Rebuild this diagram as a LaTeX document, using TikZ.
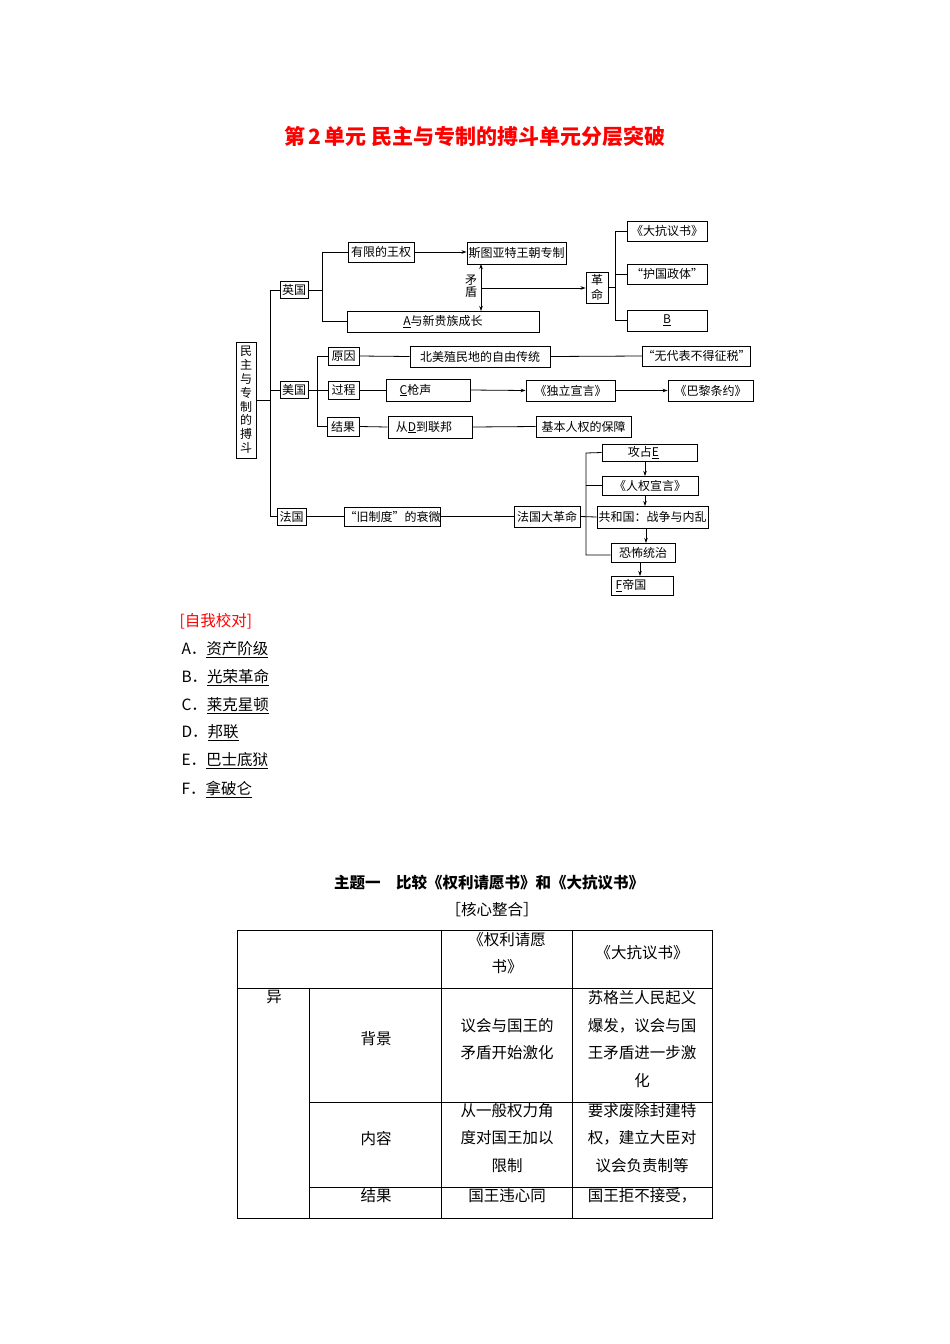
\documentclass[tikz,border=0pt]{standalone}
\usepackage{fontspec}
\setmainfont{Noto Sans CJK SC}
\usetikzlibrary{arrows.meta}
\begin{document}
\begin{tikzpicture}[x=1pt,y=-1pt,
  bx/.style={draw,line width=0.9pt,inner sep=0pt,font=\fontsize{12}{13.5}\selectfont,align=center},
  ln/.style={line width=0.8pt},
  ar/.style={line width=0.8pt,-{Stealth[length=5pt,width=3.5pt]}},
  bt/.style={font=\fontsize{15.5}{27.5}\selectfont,align=center},
  tl/.style={line width=0.8pt}]
\useasboundingbox (0,0) rectangle (950,1344);
\node[font=\bfseries\fontsize{21}{21}\selectfont,text=red] (title) at (475,137) {第\,2\,单元\ 民主与专制的搏斗单元分层突破};
% diagram
\node[bx,minimum width=20,minimum height=116,font=\fontsize{12}{13.8}\selectfont] (root) at (246,400) {民\\主\\与\\专\\制\\的\\搏\\斗};
\node[bx,minimum width=28,minimum height=17] (yg) at (294,290) {英国};
\node[bx,minimum width=28,minimum height=17] (mg) at (294,390) {美国};
\node[bx,minimum width=29,minimum height=17] (fg) at (291.5,516.5) {法国};
\node[bx,minimum width=66,minimum height=20] (ylwq) at (381,252) {有限的王权};
\node[bx,minimum width=99,minimum height=22] (stya) at (516.5,253) {斯图亚特王朝专制};
\node[bx,minimum width=192,minimum height=21] (anode) at (443,321.5) {\underline{A}与新贵族成长};
\node[bx,minimum width=22,minimum height=31,font=\fontsize{12}{15}\selectfont] (gm) at (597,287.5) {革\\命};
\node[bx,minimum width=80,minimum height=20] (dkys) at (667,231) {《大抗议书》};
\node[bx,minimum width=80,minimum height=20] (hgzt) at (667,274) {“护国政体”};
\node[bx,minimum width=80,minimum height=21] (bb) at (667,320.5) {\underline{B}};
\node[font=\fontsize{12}{12}\selectfont,align=center,inner sep=0pt] (md) at (471,286) {矛\\盾};
\node[bx,minimum width=31,minimum height=18] (yy) at (343.5,356) {原因};
\node[bx,minimum width=31,minimum height=18] (gc) at (343.5,390) {过程};
\node[bx,minimum width=32,minimum height=19] (jg) at (343,426.5) {结果};
\node[bx,minimum width=140,minimum height=21] (bmzm) at (480,356.5) {北美殖民地的自由传统};
\node[bx,minimum width=103,minimum height=20] (wdb) at (696.5,356) {“无代表不得征税”};
\node[bx,minimum width=84,minimum height=22] (cqs) at (428,390) {\underline{C}枪声\hspace{25pt}};
\node[bx,minimum width=89,minimum height=21] (dlxy) at (570.5,390.5) {《独立宣言》};
\node[bx,minimum width=85,minimum height=21] (blty) at (710.5,390.5) {《巴黎条约》};
\node[bx,minimum width=84,minimum height=22] (cd) at (430,427) {从\underline{D}到联邦\hspace{12pt}};
\node[bx,minimum width=95,minimum height=21] (jbrq) at (583.5,426.5) {基本人权的保障};
\node[bx,minimum width=89,minimum height=19] (jzd) at (392.5,516.5) {“旧制度”的衰微};
\node[bx,minimum width=66,minimum height=21] (fgdgm) at (547,516.5) {法国大革命};
\node[bx,minimum width=95,minimum height=17] (gze) at (649.5,452.5) {攻占\underline{E}\hspace{12pt}};
\node[bx,minimum width=96,minimum height=19] (rqxy) at (650,485.5) {《人权宣言》};
\node[bx,minimum width=111,minimum height=22] (ghg) at (652.5,517) {共和国：战争与内乱};
\node[bx,minimum width=64,minimum height=19] (kbtz) at (643,552.5) {恐怖统治};
\node[bx,minimum width=62,minimum height=19] (fdg) at (642,585.5) {\underline{F}帝国\hspace{22pt}};
% connectors
\draw[ln] (root.east) -- (270,400);
\draw[ln] (yg.west) -- (270,290) -- (270,516.5) -- (fg.west);
\draw[ln] (yg.east) -- (322,290);
\draw[ln] (ylwq.west) -- (322,252) -- (322,321.5) -- (anode.west);
\draw[ar] (ylwq.east) -- (stya.west |- ylwq.east);
\draw[ln,{Stealth[length=5pt,width=3.5pt]}-{Stealth[length=5pt,width=3.5pt]}] (481,264) -- (481,311);
\draw[ar] (481,288) -- (gm.west |- 0,288);
\draw[ln] (gm.east) -- (615,287.5);
\draw[ln] (dkys.west) -- (615,231) -- (615,320.5) -- (bb.west);
\draw[ln] (615,274) -- (hgzt.west);
\draw[ln] (mg.west) -- (270,390);
\draw[ln] (mg.east) -- (gc.west);
\draw[ln] (yy.west) -- (317,356) -- (317,426.5) -- (jg.west);
\draw[ln] (yy.east) -- (bmzm.west);
\draw[ln] (bmzm.east) -- (wdb.west);
\draw[ln] (gc.east) -- (cqs.west);
\draw[ar] (cqs.east) -- (dlxy.west);
\draw[ar] (dlxy.east) -- (blty.west);
\draw[ln] (jg.east) -- (cd.west);
\draw[ln] (cd.east) -- (jbrq.west);
\draw[ln] (fg.east) -- (jzd.west);
\draw[ln] (jzd.east) -- (fgdgm.west);
\draw[ln] (fgdgm.east) -- (ghg.west);
\draw[ln] (gze.west) -- (586,453) -- (586,555) -- (kbtz.west |- 0,555);
\draw[ln] (586,485.5) -- (rqxy.west);
\draw[ar] (645,461) -- (645,476);
\draw[ar] (645,495) -- (645,506);
\draw[ar] (646,528) -- (646,543);
\draw[ar] (640,562) -- (640,576);
% self check
\node[bt,anchor=west,text=red] (zw) at (176,621) {[自我校对]};
\node[bt,anchor=west] (la) at (178,650) {A．\underline{资产阶级}};
\node[bt,anchor=west] (lb) at (178,678) {B．\underline{光荣革命}};
\node[bt,anchor=west] (lc) at (178,706) {C．\underline{莱克星顿}};
\node[bt,anchor=west] (ld) at (178,733) {D．\underline{邦联}};
\node[bt,anchor=west] (le) at (178,761) {E．\underline{巴士底狱}};
\node[bt,anchor=west] (lf) at (178,789) {F．\underline{拿破仑}};
% theme
\node[font=\bfseries\fontsize{15.5}{15.5}\selectfont] (th) at (489,883) {主题一\quad 比较《权利请愿书》和《大抗议书》};
\node[bt] (hx) at (492,910) {［核心整合］};
% table
\draw[tl] (237,930) rectangle (712,1218);
\draw[tl] (237,988) -- (712,988);
\draw[tl] (309,1102) -- (712,1102);
\draw[tl] (309,1187) -- (712,1187);
\draw[tl] (309,988) -- (309,1218);
\draw[tl] (441,930) -- (441,1218);
\draw[tl] (572,930) -- (572,1218);
\node[bt] (h1) at (507,953) {《权利请愿\\书》};
\node[bt] (h2) at (642,953) {《大抗议书》};
\node[bt] (yi) at (274,997) {异};
\node[bt] (bj) at (376,1039) {背景};
\node[bt] (bj1) at (507,1039) {议会与国王的\\矛盾开始激化};
\node[bt] (bj2) at (642,1039) {苏格兰人民起义\\爆发，议会与国\\王矛盾进一步激\\化};
\node[bt] (nr) at (376,1139) {内容};
\node[bt] (nr1) at (507,1138) {从一般权力角\\度对国王加以\\限制};
\node[bt] (nr2) at (642,1138) {要求废除封建特\\权，建立大臣对\\议会负责制等};
\node[bt] (jgt) at (376,1196) {结果};
\node[bt] (jg1) at (507,1196) {国王违心同};
\node[bt] (jg2) at (642,1196) {国王拒不接受，};
\end{tikzpicture}
\end{document}
